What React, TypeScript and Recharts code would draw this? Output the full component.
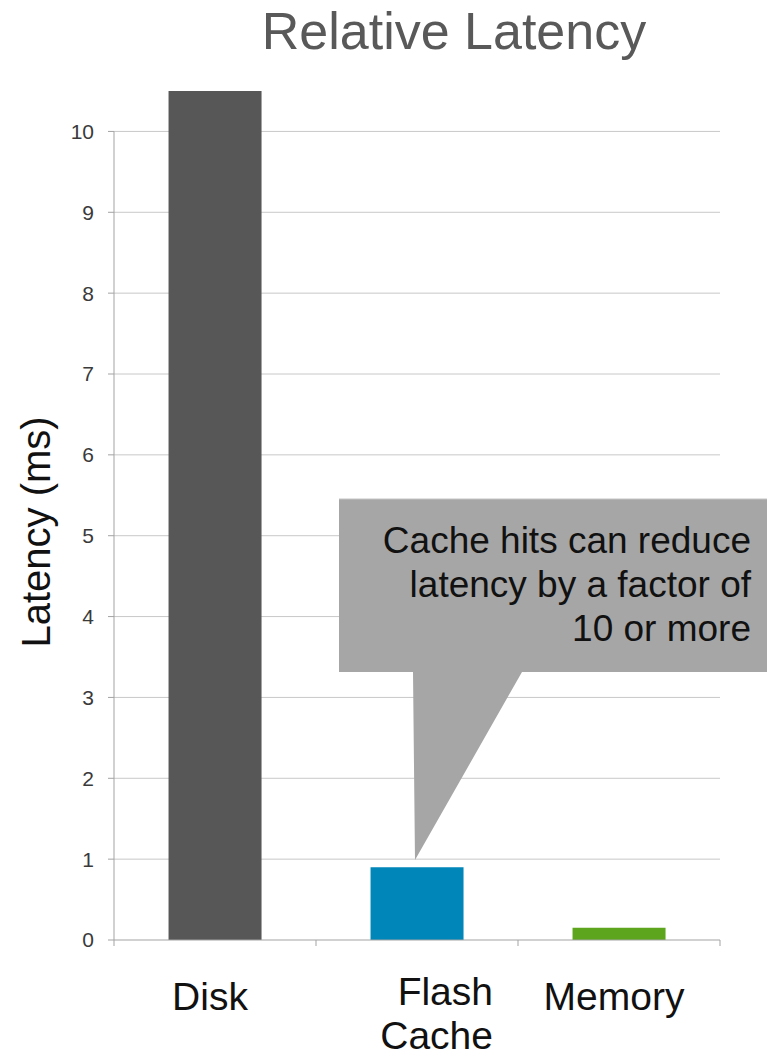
import { BarChart, Bar, Cell, XAxis, YAxis, CartesianGrid, ReferenceLine } from 'recharts'

const categories = ['Disk', 'Flash Cache', 'Memory']
const latencyMs = [10.5, 0.9, 0.15]
const yTicks = [0, 1, 2, 3, 4, 5, 6, 7, 8, 9, 10]

const BAR_COLORS = ['#575757', '#0086b8', '#5ca51c']
const AXIS_GRAY = '#a3a3a3'
const FONT = '"Liberation Sans", Arial, sans-serif'

const data = categories.map((name, i) => ({ name, latency: latencyMs[i] }))

function CategoryTick(props: any) {
  const { x, y, payload, index } = props
  const half = payload?.offset ?? 101
  const lines = String(payload.value).split(' ')
  const multi = lines.length > 1
  const isLast = index === categories.length - 1

  return (
    <g>
      <line x1={x - half} y1={y} x2={x - half} y2={y + 6} stroke={AXIS_GRAY} />
      {isLast && <line x1={x + half} y1={y} x2={x + half} y2={y + 6} stroke={AXIS_GRAY} />}
      <text
        x={multi ? x + 76 : x - 5}
        y={y + (multi ? 65 : 70)}
        textAnchor={multi ? 'end' : 'middle'}
        fill="#111"
        fontSize={39}
        fontFamily={FONT}
      >
        {lines.map((line, i) => (
          <tspan key={line} x={multi ? x + 76 : x - 5} dy={i === 0 ? 0 : 44}>
            {line}
          </tspan>
        ))}
      </text>
    </g>
  )
}

// only draw grid lines at the labelled ticks (no line at the top of the plot)
const gridAtTicks = (args: any) => {
  const scale = args?.yAxis?.scale
  if (!scale) return []
  const fn = typeof scale === 'function' ? scale : scale.map ?? scale.apply
  return yTicks.filter((t) => t > 0).map((t) => fn.call(scale, t))
}

export default function App() {
  return (
    <div style={{ position: 'absolute', left: 0, top: 0, width: 767, height: 1060, background: '#fff' }}>
      <BarChart
        width={767}
        height={1060}
        data={data}
        margin={{ top: 91, right: 47, bottom: 10, left: 0 }}
        barCategoryGap="27%"
      >
        <CartesianGrid vertical={false} stroke="#c8c8c8" horizontalCoordinatesGenerator={gridAtTicks} />
        <XAxis
          dataKey="name"
          height={110}
          axisLine={{ stroke: AXIS_GRAY }}
          tickLine={false}
          tickSize={0}
          tickMargin={0}
          interval={0}
          tick={<CategoryTick />}
        />
        <YAxis
          width={114}
          domain={[0, 10.5]}
          ticks={yTicks}
          interval={0}
          axisLine={false}
          tickLine={{ stroke: AXIS_GRAY }}
          tickSize={6}
          tickMargin={14}
          tick={{ fill: '#3a3a3a', fontSize: 21, fontFamily: FONT }}
        />
        <ReferenceLine
          segment={[{ x: 'Disk', y: 0 }, { x: 'Disk', y: 10 }]}
          position="start"
          stroke={AXIS_GRAY}
        />
        <Bar dataKey="latency" isAnimationActive={false}>
          {data.map((entry, i) => (
            <Cell key={entry.name} fill={BAR_COLORS[i]} />
          ))}
        </Bar>
      </BarChart>

      <svg
        width={767}
        height={1060}
        style={{ position: 'absolute', left: 0, top: 0, pointerEvents: 'none' }}
        fontFamily={FONT}
      >
        <text x={454} y={49} textAnchor="middle" fontSize={52} fill="#595959">
          Relative Latency
        </text>
        <text x={50} y={532} textAnchor="middle" fontSize={40} fill="#111" transform="rotate(-90, 50, 532)">
          Latency (ms)
        </text>

        {/* callout */}
        <path d="M339 499 H767 V672 H522 L415 860 L413 672 H339 Z" fill="#a6a6a6" />
        <line x1={339} y1={499} x2={767} y2={499} stroke="#c4c4c4" />
        <text textAnchor="end" fontSize={37} fill="#111">
          <tspan x={751} y={553}>Cache hits can reduce</tspan>
          <tspan x={751} y={597}>latency by a factor of</tspan>
          <tspan x={751} y={641}>10 or more</tspan>
        </text>
      </svg>
    </div>
  )
}
